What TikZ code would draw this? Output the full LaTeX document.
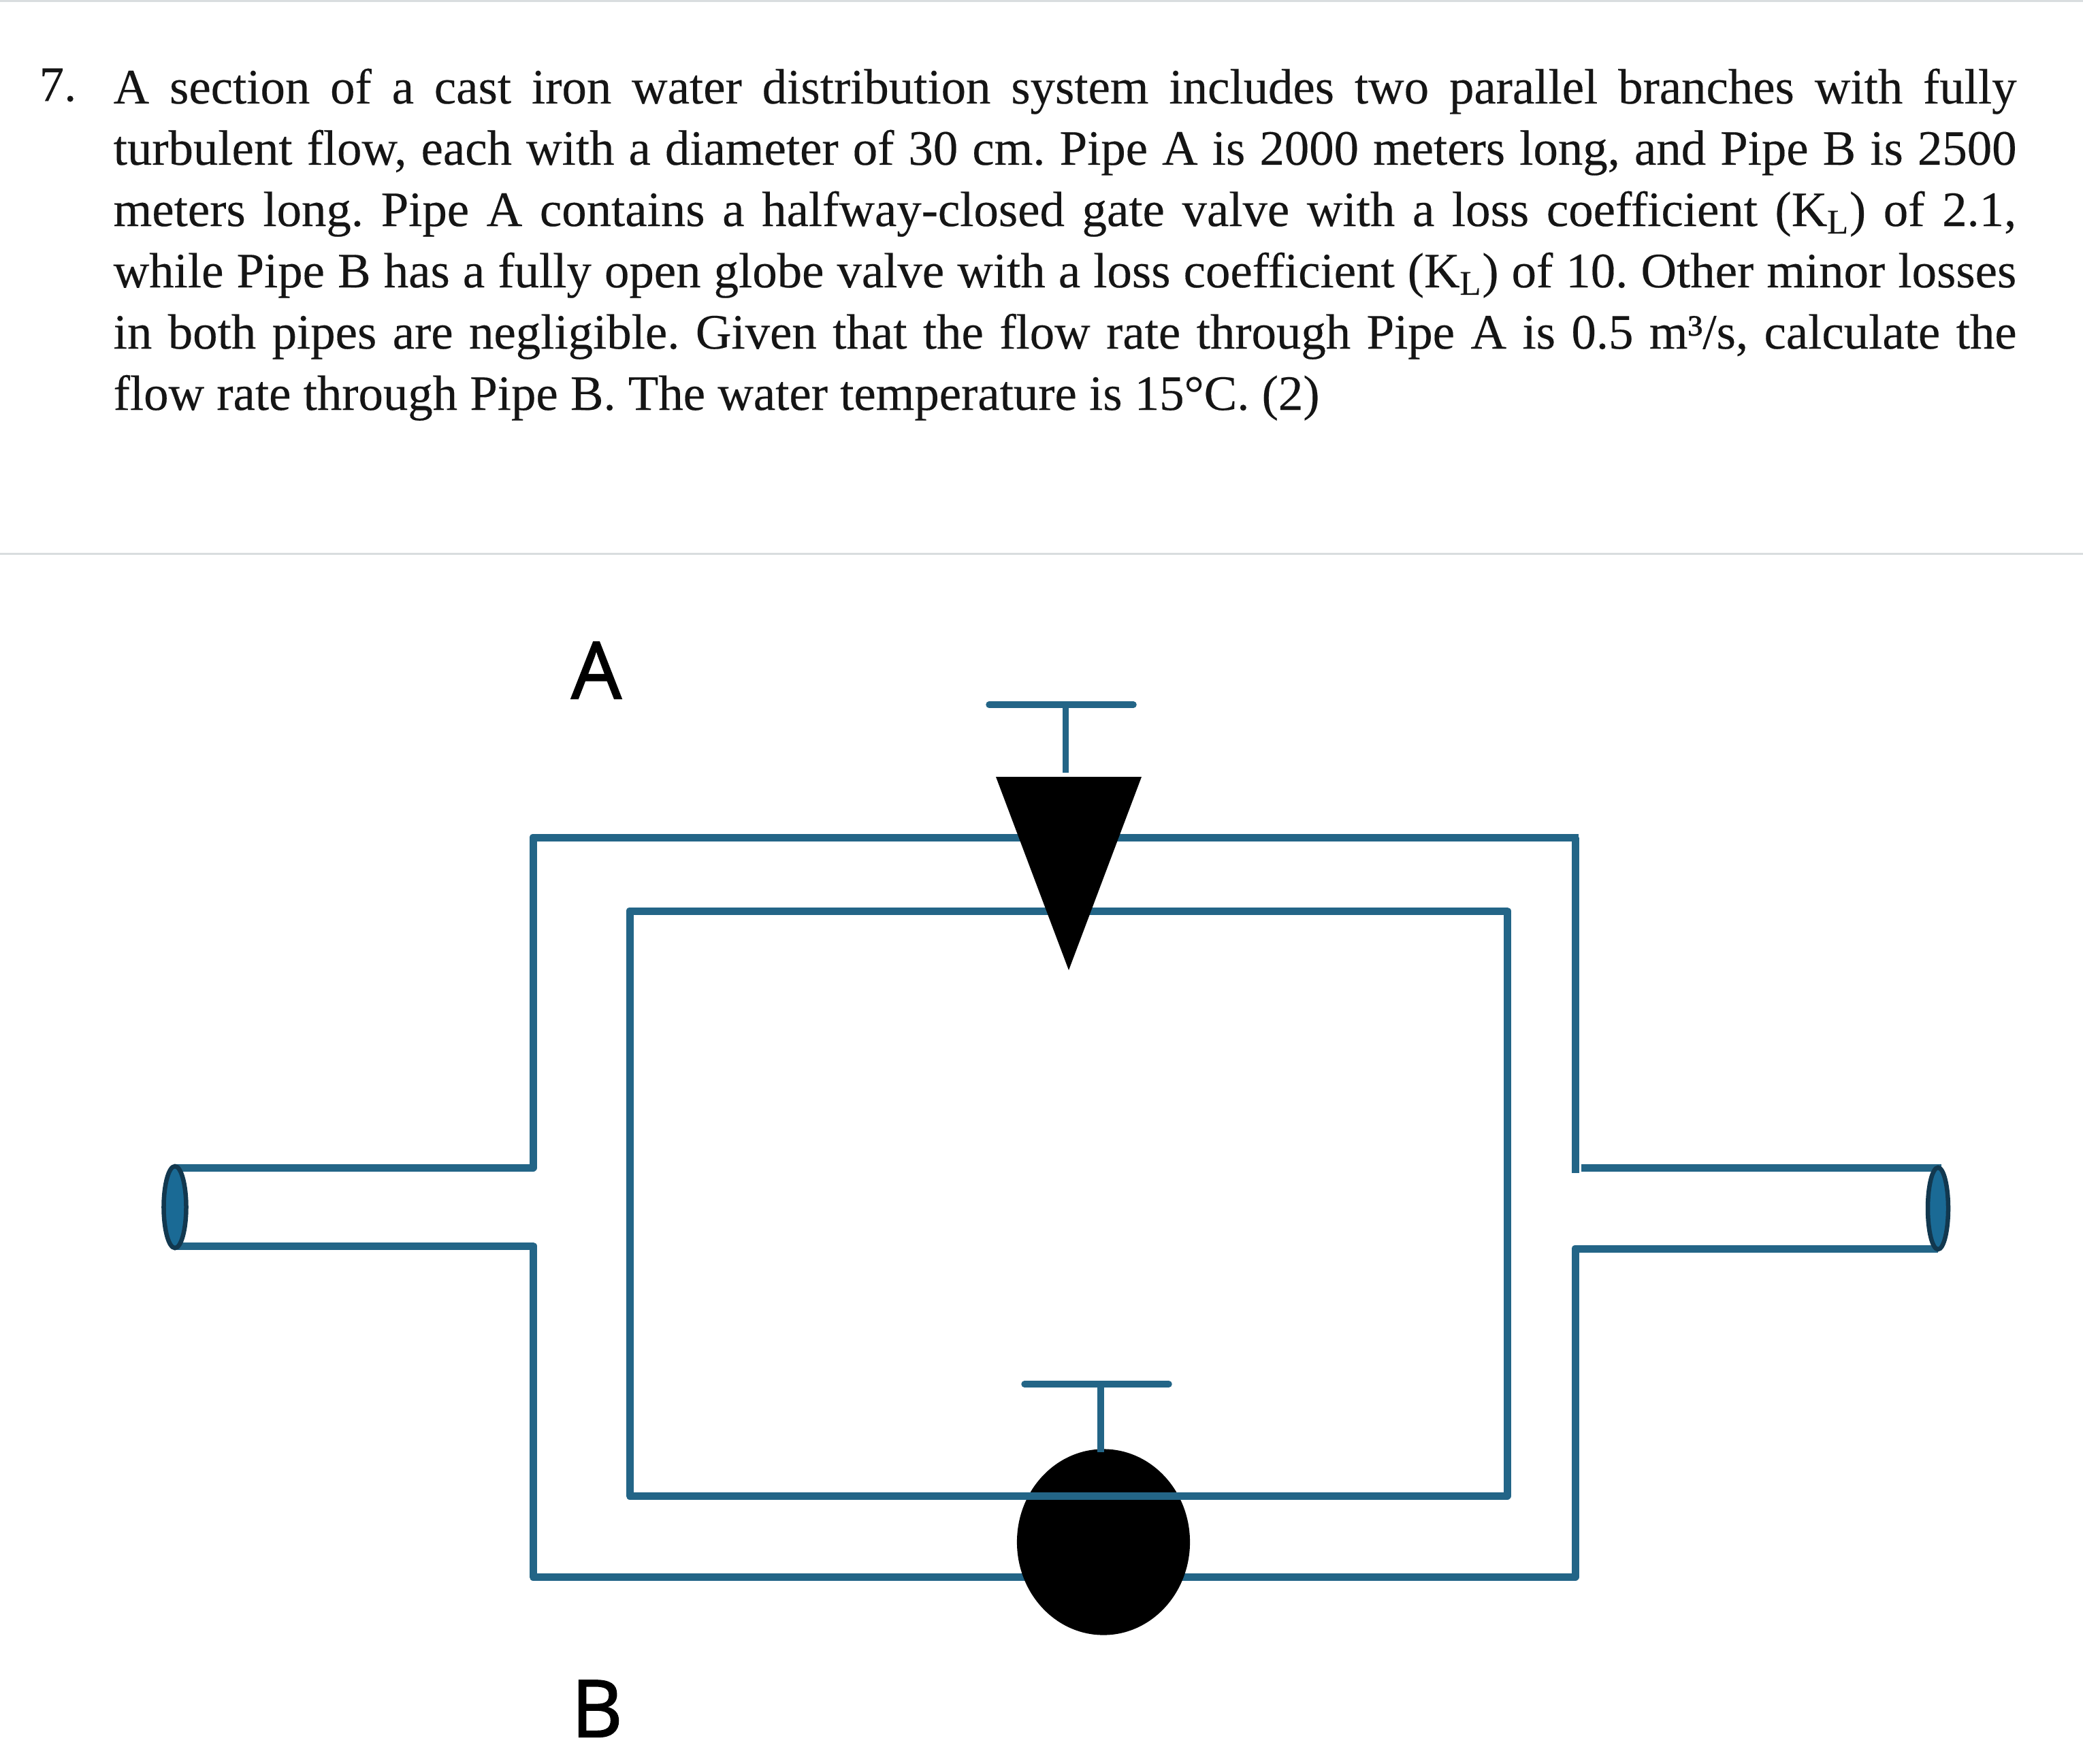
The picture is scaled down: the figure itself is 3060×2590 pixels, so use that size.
\documentclass[tikz,border=0pt]{standalone}
\usepackage{fontspec}
\setmainfont{Liberation Serif}
\newfontfamily\bodyfont{Liberation Serif}[RawFeature={embolden=0.25}]
\newfontfamily\labelfont{Open Sans}[RawFeature={embolden=1.8}]
\usetikzlibrary{shapes.geometric}
\definecolor{pipeblue}{HTML}{236587}
\definecolor{capblue}{HTML}{1A6A95}
\definecolor{capdark}{HTML}{12384F}
\definecolor{rulegrey}{HTML}{D9DDDF}
\definecolor{inkblack}{HTML}{151515}
\tikzset{
  x=0.01cm,y=-0.01cm,
  pipe/.style={draw=pipeblue,line width=0.11cm,line join=round},
  handle/.style={draw=pipeblue,line width=0.095cm,line cap=round},
  pipecap/.style={ellipse,draw=capdark,fill=capblue,line width=0.065cm,inner sep=0pt,minimum width=#1,minimum height=1.2cm},
  sep/.style={draw=rulegrey,line width=0.03cm},
  para/.style={anchor=north west,inner sep=0pt,text=inkblack,font=\bodyfont\fontsize{20.7pt}{25.6pt}\selectfont},
  piplabel/.style={anchor=base,inner sep=0pt,text=black,font=\labelfont\fontsize{33pt}{33pt}\selectfont}
}
\begin{document}
\begin{tikzpicture}
\useasboundingbox (0,0) rectangle (3060,2590);
\fill[white] (0,0) rectangle (3060,2590);
\coordinate (ruleAa) at (0,1); \coordinate (ruleAb) at (3060,1);
\coordinate (ruleBa) at (0,813); \coordinate (ruleBb) at (3060,813);
\draw[sep] (ruleAa) -- (ruleAb);
\draw[sep] (ruleBa) -- (ruleBb);
% text
\node[para] (num) at (57,100) {7.};
\node[para,text width=27.94cm,align=justify] (problem) at (166,100) {%
\tolerance=9999 \emergencystretch=3cm \frenchspacing
A section of a cast iron water distribution system includes two parallel branches with fully\linebreak
turbulent flow, each with a diameter of 30 cm. Pipe A is 2000 meters long, and Pipe B is 2500\linebreak
meters long. Pipe A contains a halfway-closed gate valve with a loss coefficient (K\textsubscript{L}) of 2.1,\linebreak
while Pipe B has a fully open globe valve with a loss coefficient (K\textsubscript{L}) of 10. Other minor losses\linebreak
in both pipes are negligible. Given that the flow rate through Pipe A is 0.5 m³/s, calculate the\linebreak
flow rate through Pipe B. The water temperature is 15°C. (2)};
% pipe corners
\coordinate (lu0) at (257,1715); \coordinate (lu1) at (783,1715); \coordinate (otl) at (783,1230);
\coordinate (otr) at (2314,1230); \coordinate (otrx) at (2319,1230); \coordinate (ru1) at (2314,1723);
\coordinate (ru2) at (2323,1715); \coordinate (ru0) at (2852,1715);
\coordinate (ll0) at (257,1830); \coordinate (ll1) at (783,1830); \coordinate (obl) at (783,2316);
\coordinate (obr) at (2314,2316); \coordinate (rl1) at (2314,1834); \coordinate (rl0) at (2847,1834);
\coordinate (itl) at (925,1338); \coordinate (itr) at (2214,1338); \coordinate (ibr) at (2214,2197); \coordinate (ibl) at (925,2197);
% pipes
\draw[pipe] (lu0) -- (lu1) -- (otl) -- (otrx);
\draw[pipe,line cap=butt] (otr) -- (ru1);
\draw[pipe,line cap=butt] (ru2) -- (ru0);
\draw[pipe] (ll0) -- (ll1) -- (obl) -- (obr) -- (rl1) -- (rl0);
% end caps
\node[pipecap=0.33cm] (capL) at (257,1773) {};
\node[pipecap=0.3cm] (capR) at (2847,1775) {};
% globe valve
\node[ellipse,fill=black,inner sep=0pt,minimum width=2.54cm,minimum height=2.73cm] (globe) at (1621,2265) {};
% inner loop, drawn over the globe valve
\draw[pipe] (itl) -- (itr) -- (ibr) -- (ibl) -- cycle;
% gate valve
\coordinate (gateL) at (1463,1141); \coordinate (gateR) at (1677,1141); \coordinate (gateT) at (1570,1425);
\fill[black] (gateL) -- (gateR) -- (gateT) -- cycle;
% handles
\coordinate (hAa) at (1453,1035); \coordinate (hAb) at (1665,1035); \coordinate (hAm) at (1565,1035); \coordinate (hAs) at (1565,1135);
\draw[handle] (hAa) -- (hAb);
\draw[pipe,line width=0.09cm,line cap=butt] (hAm) -- (hAs);
\coordinate (hBa) at (1505,2033); \coordinate (hBb) at (1717,2033); \coordinate (hBm) at (1617,2033); \coordinate (hBs) at (1617,2133);
\draw[handle] (hBa) -- (hBb);
\draw[pipe,line width=0.1cm,line cap=butt] (hBm) -- (hBs);
% labels
\node[piplabel] (labA) at (876,1026) {A};
\node[piplabel] (labB) at (877,2551) {B};
\end{tikzpicture}
\end{document}
